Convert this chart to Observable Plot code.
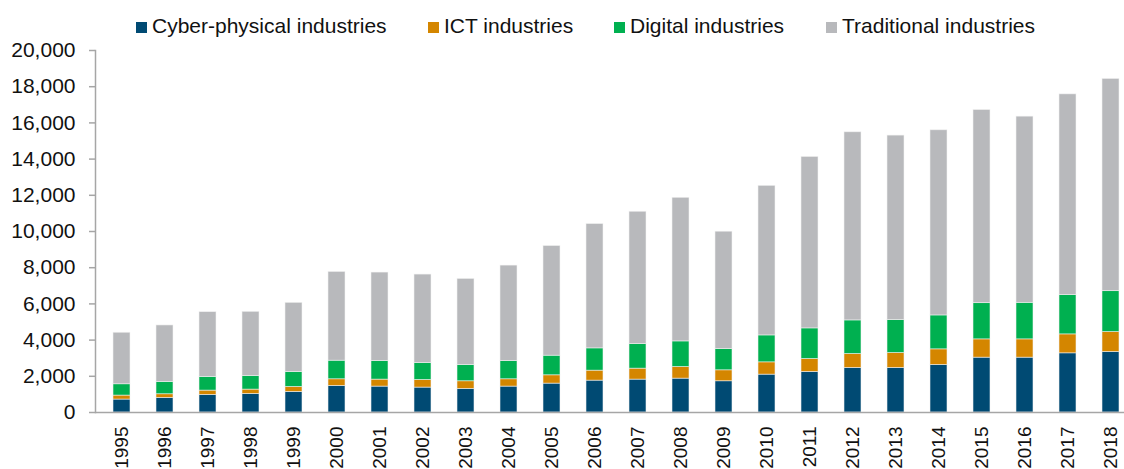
<!DOCTYPE html>
<html>
<head>
<meta charset="utf-8">
<script src="https://cdn.jsdelivr.net/npm/d3@7"></script>
<script src="https://cdn.jsdelivr.net/npm/@observablehq/plot@0.6"></script>
<style>
  html, body { margin: 0; padding: 0; background: #fff; overflow: hidden; }
  body { font-family: "Liberation Sans", Arial, sans-serif; }
  #legend { height: 38px; position: relative; }
  .item { position: absolute; top: 6px; height: 40px; display: flex; align-items: center; font-size: 21px; color: #111; white-space: nowrap; }
  .sw { width: 11px; height: 11px; margin-right: 5px; margin-top: 2px; }
</style>
</head>
<body>
<div id="legend"></div>
<div id="chart"></div>
<script>
const years = ["1995","1996","1997","1998","1999","2000","2001","2002","2003","2004","2005","2006","2007","2008","2009","2010","2011","2012","2013","2014","2015","2016","2017","2018"];
const seriesNames = ["Cyber-physical industries", "ICT industries", "Digital industries", "Traditional industries"];
const seriesColors = ["#004a73", "#d48600", "#00b050", "#b8b9bc"];
const cyberPhysical = [715, 806, 971, 1026, 1137, 1467, 1431, 1376, 1302, 1431, 1596, 1761, 1817, 1871, 1725, 2092, 2240, 2461, 2461, 2626, 3030, 3030, 3269, 3342];
const ict = [220, 202, 239, 239, 275, 368, 386, 422, 423, 404, 459, 551, 606, 643, 606, 679, 716, 771, 826, 863, 1010, 1010, 1047, 1102];
const digital = [624, 680, 753, 753, 827, 1028, 1028, 937, 899, 1010, 1084, 1231, 1358, 1414, 1175, 1488, 1691, 1856, 1819, 1874, 2000, 2020, 2167, 2259];
const traditional = [2847, 3122, 3581, 3545, 3820, 4904, 4885, 4885, 4757, 5271, 6060, 6869, 7310, 7934, 6483, 8264, 9474, 10394, 10192, 10229, 10672, 10285, 11093, 11726];
const yTicks = [0, 2000, 4000, 6000, 8000, 10000, 12000, 14000, 16000, 18000, 20000];

const seriesValues = [cyberPhysical, ict, digital, traditional];
const data = [];
seriesNames.forEach((name, s) => {
  years.forEach((yr, i) => data.push({year: yr, industry: name, value: seriesValues[s][i]}));
});

// legend
const legendX = [136, 428, 614, 826];
const legend = document.getElementById("legend");
seriesNames.forEach((name, i) => {
  const it = document.createElement("div");
  it.className = "item";
  it.style.left = legendX[i] + "px";
  it.innerHTML = `<span class="sw" style="background:${seriesColors[i]}"></span><span>${name}</span>`;
  legend.appendChild(it);
});

const fmt = d3.format(",.0f");
const chart = Plot.plot({
  width: 1124,
  height: 431,
  marginTop: 12,
  marginBottom: 57,
  marginLeft: 95,
  marginRight: 0,
  style: {fontFamily: "'Liberation Sans', Arial, sans-serif", color: "#111", background: "white"},
  x: {domain: years, range: [95, 1137], paddingInner: 0.6, paddingOuter: 0.3, label: null},
  y: {domain: [0, 20000], label: null},
  color: {domain: seriesNames, range: seriesColors},
  marks: [
    Plot.barY(data, {x: "year", y: "value", fill: "industry", stroke: "#f2f2f2", strokeWidth: 0.7, strokeOpacity: 0.8}),
    Plot.frame({anchor: "left", stroke: "#a6a6a6", strokeWidth: 1.5}),
    Plot.ruleY([0], {stroke: "#a6a6a6", strokeWidth: 1.5}),
    Plot.axisY({ticks: yTicks, tickFormat: d => fmt(d), tickSize: 6, tickPadding: 14, fontSize: 21, stroke: "#a6a6a6", strokeWidth: 1.5, label: null}),
    Plot.axisX({tickRotate: -90, tickSize: 0, tickPadding: 14, fontSize: 19, label: null})
  ]
});
document.getElementById("chart").appendChild(chart);
</script>
</body>
</html>
